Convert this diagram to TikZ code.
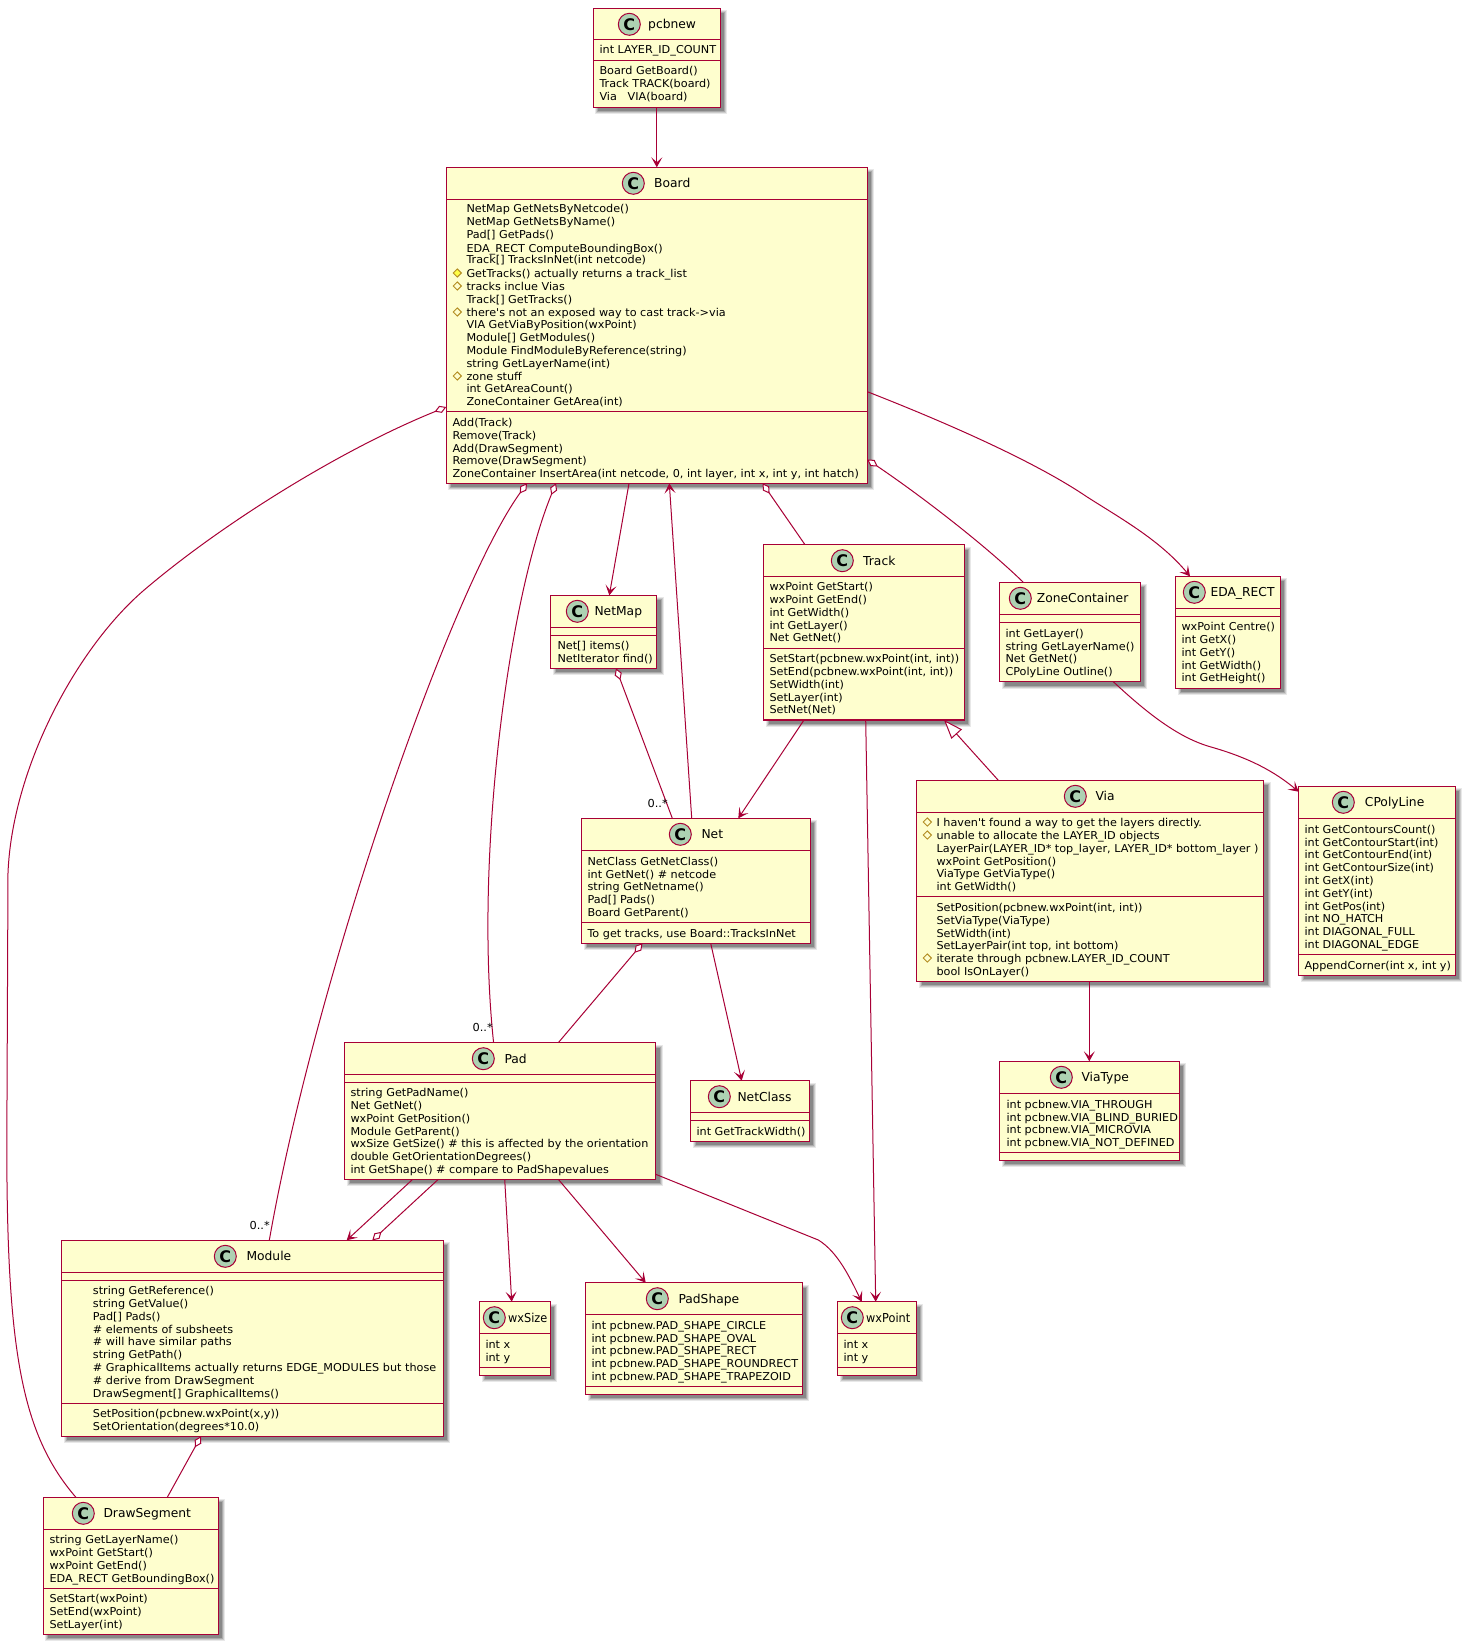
\documentclass[tikz,border=0pt]{standalone}
\usepackage{fontspec}
\usetikzlibrary{arrows.meta,shapes.geometric}
\newfontfamily\umlfont{DejaVu Sans}
\newfontfamily\umlbody{DejaVu Sans}[FakeStretch=1.035]
\newfontfamily\umltight{DejaVu Sans}[FakeStretch=.92]
\definecolor{umlred}{HTML}{A80036}
\definecolor{umlfill}{HTML}{FEFECE}
\definecolor{umlcirc}{HTML}{ADD1B2}
\definecolor{umlicon}{HTML}{B38D22}
\definecolor{umlyel}{HTML}{FFFF44}
\newcount\txtno
\tikzset{
  boxnode/.style={draw=umlred,fill=umlfill,line width=1.5pt,rectangle,inner sep=0pt,outer sep=0pt},
  sepline/.style={draw=umlred,line width=1pt},
  circnode/.style={circle,draw=umlred,fill=umlcirc,line width=1pt,minimum size=22pt,inner sep=0pt,font=\umlfont\bfseries\fontsize{16}{16}\selectfont,text=black},
  titlenode/.style={anchor=base west,inner sep=0pt,font=\umlfont\fontsize{12.3}{14}\selectfont},
  txtnode/.style={anchor=base west,inner sep=0pt,font=\umlbody\fontsize{10.85}{13}\selectfont},
  multnode/.style={anchor=base east,inner sep=0pt,font=\umlbody\fontsize{11}{13}\selectfont},
  iconnode/.style={diamond,draw=umlicon,line width=.9pt,minimum size=8.5pt,inner sep=0pt,aspect=1},
  conn/.style={draw=umlred,line width=1pt},
  head/.style={conn,-{Stealth[length=10pt,width=11pt,inset=5pt]}},
  agg/.style={conn,{Diamond[length=12.5pt,width=7.5pt,fill=white]}-},
  inh/.style={conn,{Triangle[length=19pt,width=14pt,fill=white]}-},
}
% name x0 y0 x1 y1 circle-x title-x title
\newcommand\classbox[8]{%
  \pgfmathsetmacro\bxw{#4-#2}\pgfmathsetmacro\bxh{#5-#3}%
  \pgfmathsetmacro\cyv{#3+16}\pgfmathsetmacro\byv{#3+20.5}%
  \foreach \gr/\op in {2.5/.09,1.5/.12,0.5/.16,-0.5/.20}{%
    \fill[black,opacity=\op] ({#2+4.5-\gr},{#3+4.5-\gr}) rectangle ({#4+4.5+\gr},{#5+4.5+\gr});}%
  \node[boxnode,minimum width=\bxw pt,minimum height=\bxh pt] (#1) at ({(#2+#4)/2},{(#3+#5)/2}) {};%
  \node[circnode] (#1-c) at (#6,\cyv) {C};%
  \node[titlenode] (#1-t) at (#7,\byv) {#8};%
}
\newcommand\sepl[2]{\draw[sepline] (#1.west |- 0,#2) -- (#1.east |- 0,#2);}
\newcommand\tl[3]{\global\advance\txtno by 1 \node[txtnode] (t\the\txtno) at (#1,{#2+4}) {#3};}
\newcommand\ic[2]{\global\advance\txtno by 1 \node[iconnode] (i\the\txtno) at (#1,#2) {};}
\begin{document}
\begin{tikzpicture}[x=1pt,y=-1pt]
\useasboundingbox (0,0) rectangle (1466,1645);
\fill[white] (0,0) rectangle (1466,1645);

% pcbnew
\classbox{pcbnew}{593.3}{8.3}{720.3}{107.3}{629.3}{648}{pcbnew}
\sepl{pcbnew}{40}\sepl{pcbnew}{60.3}
\tl{599.3}{50}{int LAYER\_ID\_COUNT}
\tl{599.3}{70.7}{Board GetBoard()}
\tl{599.3}{83.7}{Track TRACK(board)}
\tl{599.3}{97}{Via\ \ \ VIA(board)}

% Board
\classbox{board}{446.3}{167.3}{867.3}{483.3}{633.3}{654}{Board}
\sepl{board}{199.3}\sepl{board}{411.3}
\tl{466.3}{209}{NetMap GetNetsByNetcode()}
\tl{466.3}{222}{NetMap GetNetsByName()}
\tl{466.3}{235}{Pad[] GetPads()}
\tl{466.3}{248}{EDA\_RECT ComputeBoundingBox()}
\tl{466.3}{260}{Track[] TracksInNet(int netcode)}
\tl{466.3}{273}{GetTracks() actually returns a track\_list}
\tl{466.3}{286}{tracks inclue Vias}
\tl{466.3}{299}{Track[] GetTracks()}
\tl{466.3}{312}{there's not an exposed way to cast track->via}
\tl{466.3}{324}{VIA GetViaByPosition(wxPoint)}
\tl{466.3}{337}{Module[] GetModules()}
\tl{466.3}{350}{Module FindModuleByReference(string)}
\tl{466.3}{363}{string GetLayerName(int)}
\tl{466.3}{376}{zone stuff}
\tl{466.3}{388}{int GetAreaCount()}
\tl{466.3}{401}{ZoneContainer GetArea(int)}
\tl{452.3}{422}{Add(Track)}
\tl{452.3}{435}{Remove(Track)}
\tl{452.3}{448}{Add(DrawSegment)}
\tl{452.3}{460}{Remove(DrawSegment)}
\tl{452.3}{473}{ZoneContainer InsertArea(int netcode, 0, int layer, int x, int y, int hatch)}
\node[iconnode,fill=umlyel] (iconfilled) at (457.3,273) {};
\ic{457.3}{286}\ic{457.3}{312}\ic{457.3}{376}

% NetMap
\classbox{netmap}{550.7}{595.3}{656.7}{668.3}{577.3}{594.3}{NetMap}
\sepl{netmap}{627.3}\sepl{netmap}{635.3}
\tl{557.3}{645}{Net[] items()}
\tl{557.3}{658}{NetIterator find()}

% Track
\classbox{track}{763.7}{544.7}{964.3}{720}{842.3}{863}{Track}
\sepl{track}{576.3}\sepl{track}{648.7}
\tl{769.3}{586}{wxPoint GetStart()}
\tl{769.3}{599}{wxPoint GetEnd()}
\tl{769.3}{612}{int GetWidth()}
\tl{769.3}{625}{int GetLayer()}
\tl{769.3}{637}{Net GetNet()}
\tl{769.3}{658}{SetStart(pcbnew.wxPoint(int, int))}
\tl{769.3}{671}{SetEnd(pcbnew.wxPoint(int, int))}
\tl{769.3}{684}{SetWidth(int)}
\tl{769.3}{697}{SetLayer(int)}
\tl{769.3}{709}{SetNet(Net)}

% ZoneContainer
\classbox{zone}{999.7}{582.3}{1140.3}{681.7}{1020.3}{1036.7}{ZoneContainer}
\sepl{zone}{614.7}\sepl{zone}{622.7}
\tl{1005.3}{633}{int GetLayer()}
\tl{1005.3}{646}{string GetLayerName()}
\tl{1005.3}{658}{Net GetNet()}
\tl{1005.3}{671}{CPolyLine Outline()}

% EDA_RECT
\classbox{edarect}{1175.7}{576.3}{1280.3}{688.3}{1194.3}{1210.3}{EDA\_RECT}
\sepl{edarect}{608.3}\sepl{edarect}{616.3}
\tl{1181.3}{626}{wxPoint Centre()}
\tl{1181.3}{639}{int GetX()}
\tl{1181.3}{652}{int GetY()}
\tl{1181.3}{665}{int GetWidth()}
\tl{1181.3}{677}{int GetHeight()}

% Net
\classbox{net}{581.7}{818.3}{810.3}{943.3}{680.3}{701.3}{Net}
\sepl{net}{850.3}\sepl{net}{922.7}
\tl{587.3}{861}{NetClass GetNetClass()}
\tl{587.3}{874}{int GetNet() \# netcode}
\tl{587.3}{886}{string GetNetname()}
\tl{587.3}{899}{Pad[] Pads()}
\tl{587.3}{912}{Board GetParent()}
\tl{587.3}{933}{To get tracks, use Board::TracksInNet}

% Via
\classbox{via}{916.7}{780.3}{1263.7}{981.3}{1075.3}{1095.3}{Via}
\sepl{via}{812.3}\sepl{via}{896.7}
\tl{936.3}{822}{I haven't found a way to get the layers directly.}
\tl{936.3}{835}{unable to allocate the LAYER\_ID objects}
\tl{936.3}{848}{LayerPair(LAYER\_ID* top\_layer, LAYER\_ID* bottom\_layer )}
\tl{936.3}{861}{wxPoint GetPosition()}
\tl{936.3}{873}{ViaType GetViaType()}
\tl{936.3}{886}{int GetWidth()}
\tl{936.3}{907}{SetPosition(pcbnew.wxPoint(int, int))}
\tl{936.3}{920}{SetViaType(ViaType)}
\tl{936.3}{933}{SetWidth(int)}
\tl{936.3}{945}{SetLayerPair(int top, int bottom)}
\tl{936.3}{958}{iterate through pcbnew.LAYER\_ID\_COUNT}
\tl{936.3}{971}{bool IsOnLayer()}
\ic{927.3}{822}\ic{927.3}{835}\ic{927.3}{958}

% CPolyLine
\classbox{cpoly}{1298.7}{786.3}{1455.3}{975.3}{1343.3}{1364.7}{CPolyLine}
\sepl{cpoly}{818.3}\sepl{cpoly}{954.3}
\tl{1304.3}{829}{int GetContoursCount()}
\tl{1304.3}{842}{int GetContourStart(int)}
\tl{1304.3}{854}{int GetContourEnd(int)}
\tl{1304.3}{867}{int GetContourSize(int)}
\tl{1304.3}{880}{int GetX(int)}
\tl{1304.3}{893}{int GetY(int)}
\tl{1304.3}{906}{int GetPos(int)}
\tl{1304.3}{918}{int NO\_HATCH}
\tl{1304.3}{931}{int DIAGONAL\_FULL}
\tl{1304.3}{944}{int DIAGONAL\_EDGE}
\tl{1304.3}{965}{AppendCorner(int x, int y)}

% ViaType
\classbox{viatype}{999.7}{1061.3}{1179.3}{1160.3}{1061.3}{1081.3}{ViaType}
\sepl{viatype}{1093.3}\sepl{viatype}{1152.3}
\tl{1006.3}{1104}{int pcbnew.VIA\_THROUGH}
\tl{1006.3}{1117}{int pcbnew.VIA\_BLIND\_BURIED}
\tl{1006.3}{1129}{int pcbnew.VIA\_MICROVIA}
\tl{1006.3}{1142}{int pcbnew.VIA\_NOT\_DEFINED}

% NetClass
\classbox{netclass}{690.7}{1080.7}{809.3}{1141.3}{719.3}{737.3}{NetClass}
\sepl{netclass}{1112.7}\sepl{netclass}{1120.7}
\tl{696.3}{1131}{int GetTrackWidth()}

% Pad
\classbox{pad}{344.7}{1042.7}{655.7}{1179.3}{483.3}{504.3}{Pad}
\sepl{pad}{1074.3}\sepl{pad}{1082.7}
\tl{350.3}{1092}{string GetPadName()}
\tl{350.3}{1105}{Net GetNet()}
\tl{350.3}{1118}{wxPoint GetPosition()}
\tl{350.3}{1131}{Module GetParent()}
\tl{350.3}{1143}{wxSize GetSize() \# this is affected by the orientation}
\tl{350.3}{1156}{double GetOrientationDegrees()}
\tl{350.3}{1169}{int GetShape() \# compare to PadShapevalues}

% Module
\classbox{module}{61.7}{1240.3}{443.3}{1436.3}{225.3}{246.3}{Module}
\sepl{module}{1272.3}\sepl{module}{1280.3}\sepl{module}{1403.3}
\tl{92.7}{1290}{string GetReference()}
\tl{92.7}{1303}{string GetValue()}
\tl{92.7}{1316}{Pad[] Pads()}
\tl{92.7}{1329}{\# elements of subsheets}
\tl{92.7}{1341}{\# will have similar paths}
\tl{92.7}{1354}{string GetPath()}
\tl{92.7}{1367}{\# GraphicalItems actually returns EDGE\_MODULES but those}
\tl{92.7}{1380}{\# derive from DrawSegment}
\tl{92.7}{1393}{DrawSegment[] GraphicalItems()}
\tl{92.7}{1413}{SetPosition(pcbnew.wxPoint(x,y))}
\tl{92.7}{1426}{SetOrientation(degrees*10.0)}

% wxSize
\classbox{wxsize}{479.7}{1301.7}{550.3}{1375.3}{494.3}{508}{\umltight wxSize}
\sepl{wxsize}{1333.3}\sepl{wxsize}{1367.3}
\tl{485.3}{1344.3}{int x}
\tl{485.3}{1357.3}{int y}

% PadShape
\classbox{padshape}{585.7}{1282.7}{802.3}{1394.3}{657.3}{678.3}{PadShape}
\sepl{padshape}{1314.3}\sepl{padshape}{1386.7}
\tl{591.3}{1325}{int pcbnew.PAD\_SHAPE\_CIRCLE}
\tl{591.3}{1338}{int pcbnew.PAD\_SHAPE\_OVAL}
\tl{591.3}{1350}{int pcbnew.PAD\_SHAPE\_RECT}
\tl{591.3}{1363}{int pcbnew.PAD\_SHAPE\_ROUNDRECT}
\tl{591.3}{1376}{int pcbnew.PAD\_SHAPE\_TRAPEZOID}

% wxPoint
\classbox{wxpoint}{837.7}{1301.7}{916.3}{1375.3}{852.3}{866}{\umltight wxPoint}
\sepl{wxpoint}{1333.3}\sepl{wxpoint}{1367.3}
\tl{843.3}{1344.3}{int x}
\tl{843.3}{1357.3}{int y}

% DrawSegment
\classbox{drawseg}{43.3}{1497.3}{218.3}{1634.3}{83.3}{103.3}{DrawSegment}
\sepl{drawseg}{1529.3}\sepl{drawseg}{1588.7}
\tl{49.3}{1539.3}{string GetLayerName()}
\tl{49.3}{1552}{wxPoint GetStart()}
\tl{49.3}{1565}{wxPoint GetEnd()}
\tl{49.3}{1578}{EDA\_RECT GetBoundingBox()}
\tl{49.3}{1598}{SetStart(wxPoint)}
\tl{49.3}{1611}{SetEnd(wxPoint)}
\tl{49.3}{1624}{SetLayer(int)}

% connectors
\draw[head] (pcbnew.south) -- (pcbnew.south |- board.north);
\draw[head] (629,0 |- board.south) -- (609.3,0 |- netmap.north);
\draw[head] (691.7,0 |- net.north) -- (669.3,0 |- board.south);
\draw[agg] (616,0 |- netmap.south) -- (672.3,0 |- net.north);
\draw[agg] (762.5,0 |- board.south) -- (805,0 |- track.north);
\draw[head] (804,0 |- track.south) -- (738.3,0 |- net.north);
\draw[head] (865.7,0 |- track.south) -- (875.7,0 |- wxpoint.north);
\draw[inh] (944,0 |- track.south) -- (998.3,0 |- via.north);
\draw[head] (1089.3,0 |- via.south) -- (1089.3,0 |- viatype.north);
\draw[agg] (642.5,0 |- net.south) -- (558.3,0 |- pad.north);
\draw[head] (710.7,0 |- net.south) -- (741.7,0 |- netclass.north);
\draw[head] (412.7,0 |- pad.south) -- (346.7,0 |- module.north);
\draw[agg] (372.3,0 |- module.north) -- (438.3,0 |- pad.south);
\draw[head] (504.7,0 |- pad.south) -- (511.7,0 |- wxsize.north);
\draw[head] (558.3,0 |- pad.south) -- (645.7,0 |- padshape.north);
\draw[agg] (201,0 |- module.south) -- (167.3,0 |- drawseg.north);
\draw[head] (pad.east |- 0,1174.3) -- (818.3,1240) .. controls (838,1252) and (850,1278) .. (861.7,0 |- wxpoint.north);
\draw[head] (board.east |- 0,391.7) .. controls (960,428) and (1040,465) .. (1086.7,496.7) .. controls (1120,518) and (1160,540) .. (1190,0 |- edarect.north);
\draw[head] (1113.3,0 |- zone.south) .. controls (1150,716) and (1180,738) .. (1210,746.7) .. controls (1250,758) and (1275,772) .. (cpoly.west |- 0,791.7);
\draw[agg] (board.east |- 0,459.5) .. controls (920,495) and (985,545) .. (1023.3,0 |- zone.north);
\draw[agg] (556,0 |- board.south) .. controls (508,600) and (474,860) .. (493.6,0 |- pad.north);
\draw[agg] (527,0 |- board.south) .. controls (450,590) and (315,980) .. (269.3,0 |- module.north);
\draw[agg] (board.west |- 0,407) .. controls (340,450) and (220,525) .. (143,591) .. controls (75,650) and (12,770) .. (8,873) -- (7,1100) .. controls (5,1340) and (18,1430) .. (75.9,0 |- drawseg.north);

\node[multnode] (m1) at (668,807) {0..*};
\node[multnode] (m2) at (493,1031) {0..*};
\node[multnode] (m3) at (270,1229) {0..*};
\end{tikzpicture}
\end{document}
